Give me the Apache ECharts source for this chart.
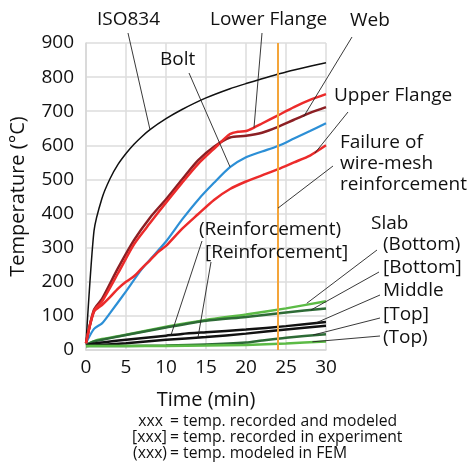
<!DOCTYPE html>
<html>
<head>
<meta charset="utf-8">
<script src="https://cdn.jsdelivr.net/npm/echarts@6/dist/echarts.min.js"></script>
<style>
  html, body { margin: 0; padding: 0; background: #fff; }
  #chart { width: 474px; height: 471px; }
</style>
</head>
<body>
<div id="chart"></div>
<script>
// Time (min) / Temperature (°C) pairs
const iso834 = [[0, 20], [1, 349], [2, 445], [3, 502], [4, 544], [5, 576], [6, 603], [7, 626], [8, 646], [10, 678], [12, 705], [15, 739], [18, 766], [20, 781], [22, 795], [25, 815], [28, 832], [30, 842]];
const lowerFlange = [[0, 20], [1, 115], [2, 142], [4, 225], [6, 310], [8, 372], [10, 432], [12, 490], [14, 545], [16, 590], [18, 633], [19, 640], [20, 642], [21, 652], [22, 664], [24, 688], [26, 712], [28, 733], [30, 750]];
const web = [[0, 20], [1, 118], [2, 150], [4, 240], [6, 322], [8, 388], [10, 442], [12, 500], [14, 556], [16, 596], [18, 623], [20, 628], [22, 637], [24, 654], [26, 675], [28, 695], [30, 712]];
const bolt = [[0, 20], [1, 62], [2, 78], [3, 108], [5, 172], [7, 238], [10, 318], [12, 382], [14, 440], [16, 490], [18, 536], [20, 565], [22, 582], [24, 598], [26, 620], [28, 642], [30, 665]];
const upperFlange = [[0, 20], [1, 112], [2, 132], [3, 155], [4, 180], [5, 200], [6, 216], [7, 240], [8, 263], [9, 287], [10, 305], [12, 355], [14, 398], [16, 440], [18, 472], [20, 494], [22, 512], [24, 530], [26, 550], [28, 570], [30, 600]];
const slabBottomFem = [[0, 15], [1, 26], [2, 32], [5, 45], [10, 68], [15, 88], [20, 104], [25, 122], [30, 143]];
const slabBottomExp = [[0, 15], [1, 25], [2, 30], [5, 44], [10, 66], [15, 86], [20, 97], [25, 110], [30, 122]];
const reinfFem = [[0, 15], [2, 22], [5, 30], [10, 42], [12, 47], [15, 52], [20, 60], [25, 70], [30, 82]];
const reinfExp = [[0, 12], [5, 20], [10, 30], [15, 38], [20, 48], [25, 60], [30, 71]];
const slabTopExp = [[0, 12], [5, 12], [10, 13], [15, 16], [20, 22], [22, 28], [25, 36], [30, 46]];
const slabTopFem = [[0, 12], [10, 12], [15, 13], [20, 15], [25, 19], [30, 25]];
const failureTime = 24;

const xTicks = [0, 5, 10, 15, 20, 25, 30];
const yTicks = [0, 100, 200, 300, 400, 500, 600, 700, 800, 900];

// label text, label anchor (px), leader start (px), leader end (data)
const notes = [
  { text: 'ISO834', x: 97, y: 20, from: [128, 33], to: [8, 646] },
  { text: 'Lower Flange', x: 210, y: 20, from: [262, 33], to: [21, 652] },
  { text: 'Web', x: 350, y: 21, from: [352, 37], to: [27.2, 684] },
  { text: 'Bolt', x: 160, y: 60, from: [189, 73], to: [18, 537] },
  { text: 'Upper Flange', x: 334, y: 96, from: [348, 112], to: [28.6, 577] },
  { text: 'Failure of\nwire-mesh\nreinforcement', x: 340, y: 165, from: [333, 166], to: [failureTime, 416] },
  { text: '(Reinforcement)', x: 199, y: 230, from: [202, 241], to: [10.6, 42] },
  { text: '[Reinforcement]', x: 205, y: 253, from: [211, 262], to: [14, 37] },
  { text: 'Slab', x: 371, y: 224, from: null, to: null },
  { text: '(Bottom)', x: 383, y: 245, from: [377, 250], to: [27.6, 137] },
  { text: '[Bottom]', x: 383, y: 268, from: [379, 272], to: [28.1, 117] },
  { text: 'Middle', x: 383, y: 291, from: [380, 295], to: [28.8, 80] },
  { text: '[Top]', x: 383, y: 315, from: [380, 318], to: [28.4, 44] },
  { text: '(Top)', x: 383, y: 338, from: [380, 336], to: [28.3, 24] }
];

const FONT = '"Open Sans", "DejaVu Sans", sans-serif';

function line(name, data, color, width, smooth) {
  return {
    name, type: 'line', data, smooth: smooth === undefined ? 0.25 : smooth, showSymbol: false,
    lineStyle: { color, width }, itemStyle: { color }
  };
}

const chart = echarts.init(document.getElementById('chart'), null, { renderer: 'canvas' });

chart.setOption({
  animation: false,
  backgroundColor: '#fff',
  grid: { left: 84, right: 148, top: 43, bottom: 121 },
  xAxis: {
    type: 'value', min: 0, max: 30, interval: 5,
    name: 'Time (min)', nameLocation: 'middle', nameGap: 40,
    nameTextStyle: { fontFamily: FONT, fontSize: 20, color: '#111' },
    axisLine: { show: true, lineStyle: { color: '#d6d6d6', width: 1.5 } },
    axisTick: { show: false },
    axisLabel: { fontFamily: FONT, fontSize: 19, color: '#111', margin: 8,
      formatter: v => xTicks.includes(v) ? String(v) : '' },
    splitLine: { show: true, lineStyle: { color: '#dcdcdc', width: 1.5 } }
  },
  yAxis: {
    type: 'value', min: 0, max: 900, interval: 100,
    name: 'Temperature (°C)', nameLocation: 'middle', nameGap: 58, nameRotate: 90,
    nameTextStyle: { fontFamily: FONT, fontSize: 20, color: '#111' },
    axisLine: { show: true, lineStyle: { color: '#d6d6d6', width: 1.5 } },
    axisTick: { show: false },
    axisLabel: { fontFamily: FONT, fontSize: 19, color: '#111', margin: 12,
      formatter: v => yTicks.includes(v) ? String(v) : '' },
    splitLine: { show: true, lineStyle: { color: '#dcdcdc', width: 1.5 } }
  },
  series: [
    Object.assign(line('ISO834', iso834, '#111', 1.5, 0.2), {
      markLine: {
        silent: true, symbol: 'none', label: { show: false },
        lineStyle: { color: '#f4a53a', width: 2, type: 'solid' },
        data: [{ xAxis: failureTime }]
      }
    }),
    line('Slab (Bottom)', slabBottomFem, '#5cbb46', 2.5),
    line('Slab [Bottom]', slabBottomExp, '#2d6b36', 2.5),
    line('(Reinforcement)', reinfFem, '#111', 2.5),
    line('[Reinforcement]', reinfExp, '#111', 2.5),
    line('Slab [Top]', slabTopExp, '#2d6b36', 2.5),
    line('Slab (Top)', slabTopFem, '#5cbb46', 2.5),
    line('Bolt', bolt, '#2c8fd6', 2.2),
    line('Upper Flange', upperFlange, '#ec2b2b', 2.5),
    line('Web', web, '#8c1f24', 2.5),
    line('Lower Flange', lowerFlange, '#ec2b2b', 2.5)
  ]
});

const graphics = [];
notes.forEach(n => {
  graphics.push({
    type: 'text', left: n.x, top: n.y - (n.text.split('\n').length * 22) / 2, z: 10,
    style: { text: n.text, font: '19px ' + FONT, fill: '#111', lineHeight: 21 }
  });
  if (n.from) {
    const p = chart.convertToPixel({ gridIndex: 0 }, n.to);
    graphics.push({
      type: 'line', z: 10, silent: true,
      shape: { x1: n.from[0], y1: n.from[1], x2: p[0], y2: p[1] },
      style: { stroke: '#222', lineWidth: 0.9 }
    });
  }
});
const foot = [
  ['xxx', '= temp. recorded and modeled', 422, 163],
  ['[xxx]', '= temp. recorded in experiment', 438, 167],
  ['(xxx)', '= temp. modeled in FEM', 454, 167]
];
foot.forEach(f => {
  graphics.push({ type: 'text', x: f[3], y: f[2], z: 10,
    style: { text: f[0], font: '15.7px ' + FONT, fill: '#111', align: 'right', verticalAlign: 'middle' } });
  graphics.push({ type: 'text', x: 170, y: f[2], z: 10,
    style: { text: f[1], font: '15.7px ' + FONT, fill: '#111', align: 'left', verticalAlign: 'middle' } });
});
chart.setOption({ graphic: graphics });
</script>
</body>
</html>
